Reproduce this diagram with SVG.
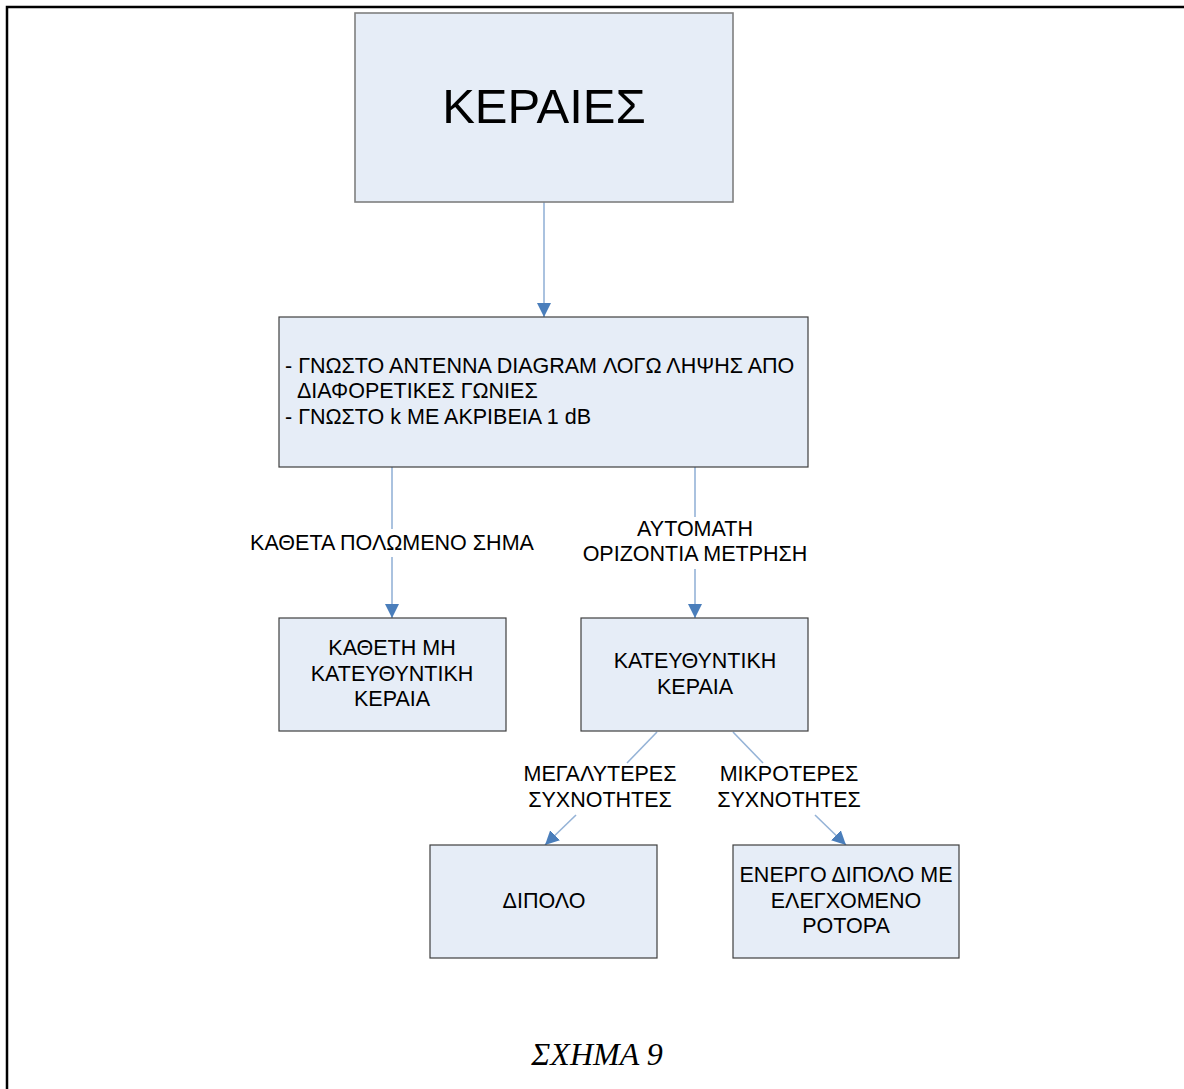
<svg xmlns="http://www.w3.org/2000/svg" width="1184" height="1089" viewBox="0 0 1184 1089">
  <defs>
    <style>
      .box { fill: #e6edf7; stroke: #3f3f3f; stroke-width: 1.2; }
      .lbl { font-family: "Liberation Sans", Arial, sans-serif; font-size: 21.5px; fill: #000; text-anchor: middle; }
      .wire { stroke: #95b3d7; stroke-width: 1.6; fill: none; }
      .cap { font-family: "Liberation Serif", "Times New Roman", serif; font-style: italic; font-size: 32px; fill: #000; text-anchor: middle; }
    </style>
    <marker id="arrow" viewBox="0 0 14 14" refX="14" refY="7" markerWidth="14" markerHeight="14" markerUnits="userSpaceOnUse" orient="auto">
      <path d="M0,0 L14,7 L0,14 Z" fill="#4a7ebb"/>
    </marker>
  </defs>

  <rect width="1184" height="1089" fill="#fff"/>
  <!-- page frame -->
  <path d="M7,1089 V7 H1184" fill="none" stroke="#000" stroke-width="2.5"/>

  <g id="connectors">
    <line class="wire" x1="544" y1="202" x2="544" y2="317" marker-end="url(#arrow)"/>
    <line class="wire" x1="392" y1="467" x2="392" y2="529"/>
    <line class="wire" x1="392" y1="557" x2="392" y2="618" marker-end="url(#arrow)"/>
    <line class="wire" x1="695" y1="467" x2="695" y2="517"/>
    <line class="wire" x1="695" y1="569" x2="695" y2="618" marker-end="url(#arrow)"/>
    <line class="wire" x1="657" y1="732" x2="627" y2="763"/>
    <line class="wire" x1="576" y1="815" x2="545" y2="845" marker-end="url(#arrow)"/>
    <line class="wire" x1="733" y1="732" x2="763" y2="763"/>
    <line class="wire" x1="815" y1="815" x2="846" y2="845" marker-end="url(#arrow)"/>
    <text class="lbl" x="392" y="550">ΚΑΘΕΤΑ ΠΟΛΩΜΕΝΟ ΣΗΜΑ</text>
    <text class="lbl" x="695" y="536">ΑΥΤΟΜΑΤΗ</text>
    <text class="lbl" x="695" y="561">ΟΡΙΖΟΝΤΙΑ ΜΕΤΡΗΣΗ</text>
    <text class="lbl" x="600" y="781">ΜΕΓΑΛΥΤΕΡΕΣ</text>
    <text class="lbl" x="600" y="807">ΣΥΧΝΟΤΗΤΕΣ</text>
    <text class="lbl" x="789" y="781">ΜΙΚΡΟΤΕΡΕΣ</text>
    <text class="lbl" x="789" y="807">ΣΥΧΝΟΤΗΤΕΣ</text>
  </g>

  <g id="keraies">
    <rect class="box" x="355" y="13" width="378" height="189" style="stroke:#7f7f7f;stroke-width:1.6"/>
    <text class="lbl" x="544" y="123" style="font-size:49px">ΚΕΡΑΙΕΣ</text>
  </g>

  <g id="properties">
    <rect class="box" x="279" y="317" width="529" height="150"/>
    <text class="lbl" x="285" y="373" style="text-anchor:start">- ΓΝΩΣΤΟ ΑΝΤΕΝΝΑ DIAGRAM ΛΟΓΩ ΛΗΨΗΣ ΑΠΟ</text>
    <text class="lbl" x="297" y="398" style="text-anchor:start">ΔΙΑΦΟΡΕΤΙΚΕΣ ΓΩΝΙΕΣ</text>
    <text class="lbl" x="285" y="424" style="text-anchor:start">- ΓΝΩΣΤΟ k ΜΕ ΑΚΡΙΒΕΙΑ 1 dB</text>
  </g>

  <g id="vertical-omni">
    <rect class="box" x="279" y="618" width="227" height="113"/>
    <text class="lbl" x="392" y="655">ΚΑΘΕΤΗ ΜΗ</text>
    <text class="lbl" x="392" y="681">ΚΑΤΕΥΘΥΝΤΙΚΗ</text>
    <text class="lbl" x="392" y="706">ΚΕΡΑΙΑ</text>
  </g>

  <g id="directional">
    <rect class="box" x="581" y="618" width="227" height="113"/>
    <text class="lbl" x="695" y="668">ΚΑΤΕΥΘΥΝΤΙΚΗ</text>
    <text class="lbl" x="695" y="694">ΚΕΡΑΙΑ</text>
  </g>

  <g id="dipole">
    <rect class="box" x="430" y="845" width="227" height="113"/>
    <text class="lbl" x="544" y="908">ΔΙΠΟΛΟ</text>
  </g>

  <g id="active-dipole">
    <rect class="box" x="733" y="845" width="226" height="113"/>
    <text class="lbl" x="846" y="882">ΕΝΕΡΓΟ ΔΙΠΟΛΟ ΜΕ</text>
    <text class="lbl" x="846" y="908">ΕΛΕΓΧΟΜΕΝΟ</text>
    <text class="lbl" x="846" y="933">ΡΟΤΟΡΑ</text>
  </g>

  <text class="cap" x="597" y="1065">ΣΧΗΜΑ 9</text>
</svg>
